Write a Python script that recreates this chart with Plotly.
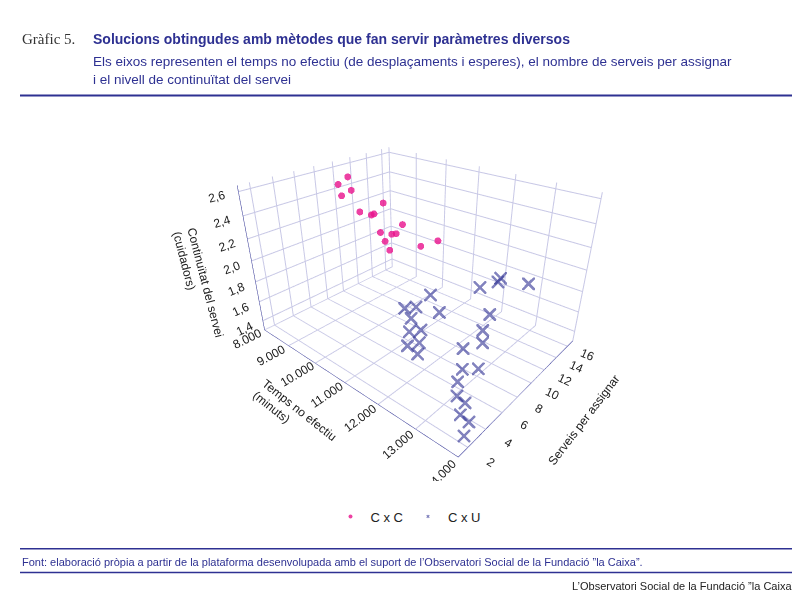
import plotly.graph_objects as go

# C x C solutions
cc_temps = [8150, 8200, 8250, 8300, 8900, 9000, 9100, 9150, 9600, 9700, 9750, 9800, 9850, 9900, 10400, 10700]
cc_serveis = [10, 11, 10, 11, 10, 11, 11, 12, 10, 11, 10, 12, 11, 10, 12, 13]
cc_cont = [2.45, 2.50, 2.35, 2.38, 2.25, 2.20, 2.22, 2.30, 2.12, 2.08, 2.05, 2.15, 2.10, 1.98, 2.0, 2.05]

# C x U solutions
cu_temps = [10900, 11000, 11100, 11300, 11400, 11500, 11600, 11800, 12000, 12300, 12500, 12700, 12900,
            13000, 13100, 13300, 13500, 13600, 13800, 13900, 12200, 12800, 11700, 11200, 12600, 13200]
cu_serveis = [8, 9, 8, 7, 8, 6, 7, 6, 13, 14, 12, 10, 9, 6, 5, 4, 4, 3, 3, 2, 15, 16, 9, 10, 8, 7]
cu_cont = [1.62, 1.60, 1.55, 1.50, 1.48, 1.45, 1.44, 1.42, 1.75, 1.80, 1.60, 1.58, 1.55, 1.50, 1.47,
           1.45, 1.43, 1.42, 1.40, 1.38, 1.78, 1.76, 1.65, 1.70, 1.50, 1.48]

fig = go.Figure()
fig.add_trace(go.Scatter3d(x=cc_temps, y=cc_serveis, z=cc_cont, mode="markers", name="C x C",
                           marker=dict(symbol="circle", size=4, color="#e8128c", opacity=0.8)))
fig.add_trace(go.Scatter3d(x=cu_temps, y=cu_serveis, z=cu_cont, mode="markers", name="C x U",
                           marker=dict(symbol="x", size=3, color="#2e3192", opacity=0.6)))

ax = dict(showbackground=False, gridcolor="#c8c8e6", linecolor="#2e3192", zeroline=False,
          tickfont=dict(size=12, color="#222"), title_font=dict(size=12, color="#222"))
fig.update_layout(
    width=800, height=591, paper_bgcolor="white", separators=",.",
    font=dict(family="Liberation Sans, Arial", color="#222"),
    margin=dict(l=0, r=0, t=0, b=0),
    showlegend=True,
    legend=dict(orientation="h", x=0.5, xanchor="center", y=0.165, font=dict(size=13)),
    scene=dict(
        domain=dict(x=[0.12, 0.9], y=[0.2, 0.86]),
        xaxis=dict(ax, title=dict(text="Temps no efectiu<br>(minuts)"), range=[8000, 14000],
                   tickvals=[8000, 9000, 10000, 11000, 12000, 13000, 14000], tickformat=",d"),
        yaxis=dict(ax, title=dict(text="Serveis per assignar"), range=[1, 17],
                   tickvals=[2, 4, 6, 8, 10, 12, 14, 16]),
        zaxis=dict(ax, title=dict(text="Continuïtat del servei<br>(cuidadors)"), range=[1.3, 2.65],
                   tickvals=[1.4, 1.6, 1.8, 2.0, 2.2, 2.4, 2.6], tickformat=".1f"),
        aspectmode="manual", aspectratio=dict(x=1.3, y=1, z=0.8),
        camera=dict(eye=dict(x=1.35, y=-1.55, z=1.05), center=dict(x=0, y=0, z=-0.1)),
    ),
)

navy = "#2e3192"
fig.add_annotation(x=0.015, y=0.965, xref="paper", yref="paper", xanchor="left", showarrow=False,
                   text="Gràfic 5.", font=dict(family="Liberation Serif", size=15, color="#333"))
fig.add_annotation(x=0.104, y=0.965, xref="paper", yref="paper", xanchor="left", showarrow=False,
                   text="<b>Solucions obtingudes amb mètodes que fan servir paràmetres diversos</b>",
                   font=dict(size=14, color=navy))
fig.add_annotation(x=0.104, y=0.895, xref="paper", yref="paper", xanchor="left", yanchor="middle",
                   showarrow=False, align="left",
                   text="Els eixos representen el temps no efectiu (de desplaçaments i esperes), el nombre de serveis per assignar<br>i el nivell de continuïtat del servei",
                   font=dict(size=13.5, color=navy))
fig.add_annotation(x=0.015, y=0.062, xref="paper", yref="paper", xanchor="left", yanchor="middle", showarrow=False,
                   text="Font: elaboració pròpia a partir de la plataforma desenvolupada amb el suport de l’Observatori Social de la Fundació ”la Caixa”.",
                   font=dict(size=11, color=navy))
fig.add_annotation(x=0.99, y=0.022, xref="paper", yref="paper", xanchor="right", yanchor="middle", showarrow=False,
                   text="L’Observatori Social de la Fundació ”la Caixa”.", font=dict(size=11, color="#222"))
for y0, w in [(0.852, 2), (0.085, 1.5), (0.045, 1.5)]:
    fig.add_shape(type="line", xref="paper", yref="paper", x0=0.015, x1=0.99, y0=y0, y1=y0,
                  line=dict(color=navy, width=w))

fig.write_html("out.html")
